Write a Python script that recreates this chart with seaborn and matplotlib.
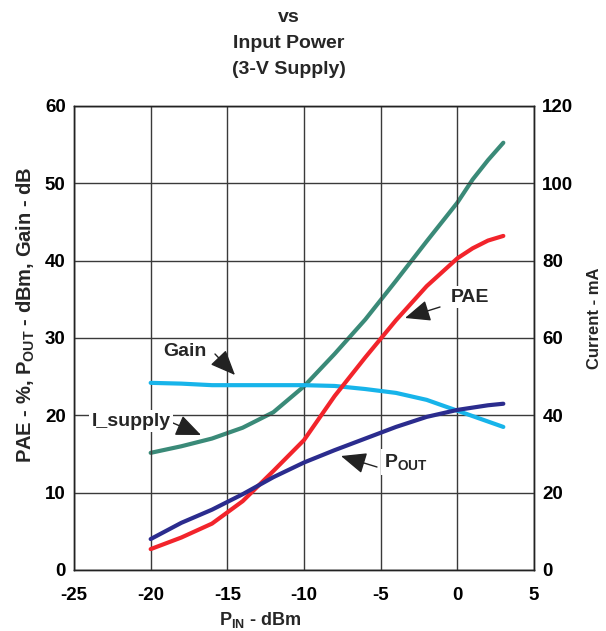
import matplotlib
matplotlib.use("Agg")
import matplotlib.pyplot as plt
import seaborn as sns
import pandas as pd

# ---- data ----
pin = [-20, -18, -16, -14, -12, -10, -8, -6, -4, -2, 0, 1, 2, 3]
pae = [2.7, 4.2, 6.0, 8.9, 12.8, 16.8, 22.5, 27.5, 32.3, 36.7, 40.3, 41.6, 42.6, 43.2]
pout = [4.0, 6.1, 7.8, 9.8, 12.0, 13.9, 15.5, 17.0, 18.5, 19.8, 20.7, 21.0, 21.3, 21.5]
gain = [24.2, 24.1, 23.9, 23.9, 23.9, 23.9, 23.8, 23.4, 22.9, 22.0, 20.6, 19.9, 19.2, 18.5]
i_supply = [30.3, 32.0, 34.0, 36.8, 40.8, 47.5, 55.9, 64.8, 74.8, 85.0, 95.0, 101.0, 106.0, 110.5]

x_ticks = [-25, -20, -15, -10, -5, 0, 5]
left_ticks = [0, 10, 20, 30, 40, 50, 60]
right_ticks = [0, 20, 40, 60, 80, 100, 120]
title_lines = ["vs", "Input Power", "(3-V Supply)"]

df = pd.DataFrame({"pin": pin, "pae": pae, "pout": pout, "gain": gain, "isup": i_supply})

sns.set_theme(style="white")
plt.rcParams['font.family'] = ['Liberation Sans', 'DejaVu Sans']
plt.rcParams['font.weight'] = 'bold'
plt.rcParams['mathtext.fontset'] = 'custom'
plt.rcParams['mathtext.bf'] = 'Liberation Sans:bold'
plt.rcParams['mathtext.rm'] = 'Liberation Sans:bold'
plt.rcParams['mathtext.default'] = 'bf'

fig = plt.figure(figsize=(6.06, 6.31), dpi=100)
ax = fig.add_axes([74/606, 1-570/631, 460/606, 464/631])
ax2 = ax.twinx()

c_teal = "#3a8a78"
c_red = "#f2242b"
c_navy = "#2b2c8e"
c_sky = "#17b4ea"
lw = 3.0

sns.lineplot(data=df, x="pin", y="isup", ax=ax2, color=c_teal, linewidth=lw, legend=False)
sns.lineplot(data=df, x="pin", y="gain", ax=ax, color=c_sky, linewidth=lw, legend=False)
sns.lineplot(data=df, x="pin", y="pae", ax=ax, color=c_red, linewidth=lw, legend=False)
sns.lineplot(data=df, x="pin", y="pout", ax=ax, color=c_navy, linewidth=lw, legend=False)

ax.set_zorder(ax2.get_zorder() + 1)
ax.patch.set_visible(False)

ax.set_xlim(-25, 5)
ax.set_ylim(0, 60)
ax2.set_ylim(0, 120)
ax.set_xticks(x_ticks)
ax.set_yticks(left_ticks)
ax2.set_yticks(right_ticks)
ax.set_xticklabels([str(v) for v in x_ticks])
ax.set_yticklabels([str(v) for v in left_ticks])
ax2.set_yticklabels([str(v) for v in right_ticks])

ax.grid(True, color="#3a3a3a", linewidth=1.0)
ax2.grid(False)
for a in (ax, ax2):
    for s in a.spines.values():
        s.set_color("#222222")
        s.set_linewidth(1.0)
tfs = 13.5
ax.tick_params(axis="both", length=0, labelsize=tfs, colors="black")
ax.tick_params(axis="x", pad=12)
ax.tick_params(axis="y", pad=6)
ax2.tick_params(axis="y", length=0, labelsize=tfs, pad=6, colors="black")
for lab in ax.get_xticklabels() + ax.get_yticklabels() + ax2.get_yticklabels():
    lab.set_fontweight("bold")

ax.set_xlabel("P$_{IN}$ - dBm", fontsize=13, fontweight="bold")
ax.xaxis.set_label_coords((260 - 74) / 460, -(610 - 570) / 464)
ax.set_ylabel("PAE - %, P$_{OUT}$ - dBm, Gain - dB", fontsize=14.5, fontweight="bold")
ax.yaxis.set_label_coords(-(74 - 37) / 460, (570 - 315) / 464)
ax2.set_ylabel("Current - mA", fontsize=12, fontweight="bold")
ax2.yaxis.set_label_coords(1 + (587 - 534) / 460, (570 - 318) / 464)

# title lines
for txt, yp in zip(title_lines, [18, 44, 70]):
    fig.text(289/606, 1 - yp/631, txt, ha="center", va="center", fontsize=14, fontweight="bold")

# annotations
box = dict(boxstyle="square,pad=0.15", fc="white", ec="none")
arrow = dict(arrowstyle="-|>,head_width=0.55,head_length=1.3", color="#222222", lw=1.0, shrinkA=0, shrinkB=0)
fs = 14

def px2data(px, py):
    return (-25 + (px - 74) / 460 * 30, (570 - py) / 464 * 60)

ax.annotate("", xy=px2data(235, 375), xytext=px2data(215, 354), arrowprops=arrow)
ax.text(*px2data(185, 352), "Gain", ha="center", va="center", fontsize=fs, fontweight="bold", bbox=box)

ax.annotate("", xy=px2data(201, 435), xytext=px2data(173, 423), arrowprops=arrow)
ax.text(*px2data(131, 421), "I_supply", ha="center", va="center", fontsize=fs, fontweight="bold", bbox=box)

ax.annotate("", xy=px2data(405, 318), xytext=px2data(440, 307), arrowprops=arrow)
ax.text(*px2data(470, 297), "PAE", ha="center", va="center", fontsize=fs, fontweight="bold", bbox=box)

ax.annotate("", xy=px2data(341, 456), xytext=px2data(377, 467), arrowprops=arrow)
ax.text(*px2data(384, 462), "P$_{OUT}$", ha="left", va="center", fontsize=fs, fontweight="bold", bbox=box)

fig.savefig("out.png", dpi=100)
